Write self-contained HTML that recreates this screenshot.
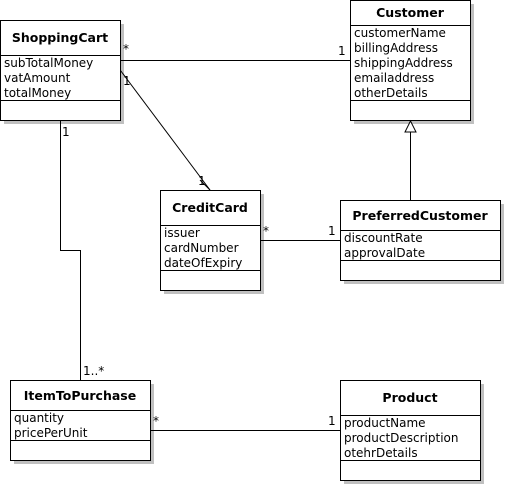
<!DOCTYPE html>
<html><head><style>body{margin:0;background:#fff}svg{display:block}</style></head><body>
<svg width="505" height="485" xmlns="http://www.w3.org/2000/svg" font-family="DejaVu Sans, sans-serif" font-size="12">
<g fill="#c0c0c0">
<rect x="4" y="24" width="120" height="100"/>
<rect x="354" y="4" width="120" height="120"/>
<rect x="164" y="194" width="100" height="100"/>
<rect x="344" y="204" width="160" height="80"/>
<rect x="14" y="384" width="140" height="80"/>
<rect x="344" y="384" width="140" height="100"/>
</g>
<g fill="#fff" stroke="#000" stroke-width="1">
<rect x="0.5" y="20.5" width="120" height="100"/>
<rect x="350.5" y="0.5" width="120" height="120"/>
<rect x="160.5" y="190.5" width="100" height="100"/>
<rect x="340.5" y="200.5" width="160" height="80"/>
<rect x="10.5" y="380.5" width="140" height="80"/>
<rect x="340.5" y="380.5" width="140" height="100"/>
</g>
<g stroke="#000" stroke-width="1" fill="none">
<path d="M0.5 55.5H120.5M0.5 100.5H120.5"/>
<path d="M350.5 25.5H470.5M350.5 100.5H470.5"/>
<path d="M160.5 225.5H260.5M160.5 270.5H260.5"/>
<path d="M340.5 230.5H500.5M340.5 260.5H500.5"/>
<path d="M10.5 410.5H150.5M10.5 440.5H150.5"/>
<path d="M340.5 415.5H480.5M340.5 460.5H480.5"/>
<path d="M120.5 60.5H350.5"/>
<path d="M120.5 70.5L210 190"/>
<path d="M60.5 120.5V250.5H80.5V380.5"/>
<path d="M260.5 240.5H340.5"/>
<path d="M150.5 430.5H340.5"/>
<path d="M410.5 132V200.5"/>
<path d="M410.5 121L405 132H416Z" fill="#fff"/>
<path d="M200 180L204 184L210 190"/>
</g>
<g font-weight="bold" text-anchor="middle" font-size="12.5">
<text x="60" y="42">ShoppingCart</text>
<text x="410" y="17">Customer</text>
<text x="210" y="212">CreditCard</text>
<text x="420" y="220">PreferredCustomer</text>
<text x="80" y="400">ItemToPurchase</text>
<text x="410" y="402">Product</text>
</g>
<g fill="#000">
<text x="4" y="67">subTotalMoney</text><text x="4" y="82">vatAmount</text><text x="4" y="97">totalMoney</text>
<text x="354" y="37">customerName</text><text x="354" y="52">billingAddress</text><text x="354" y="67">shippingAddress</text><text x="354" y="82">emailaddress</text><text x="354" y="97">otherDetails</text>
<text x="164" y="237">issuer</text><text x="164" y="252">cardNumber</text><text x="164" y="267">dateOfExpiry</text>
<text x="344" y="242">discountRate</text><text x="344" y="257">approvalDate</text>
<text x="14" y="422">quantity</text><text x="14" y="437">pricePerUnit</text>
<text x="344" y="427">productName</text><text x="344" y="442">productDescription</text><text x="344" y="457">otehrDetails</text>
<text x="123" y="53">*</text><text x="338" y="55">1</text>
<text x="123" y="85">1</text><text x="198" y="185">1</text>
<text x="62" y="136">1</text><text x="83" y="375">1..*</text>
<text x="263" y="235">*</text><text x="328" y="235">1</text>
<text x="153" y="425">*</text><text x="328" y="425">1</text>
</g>
</svg>
</body></html>
